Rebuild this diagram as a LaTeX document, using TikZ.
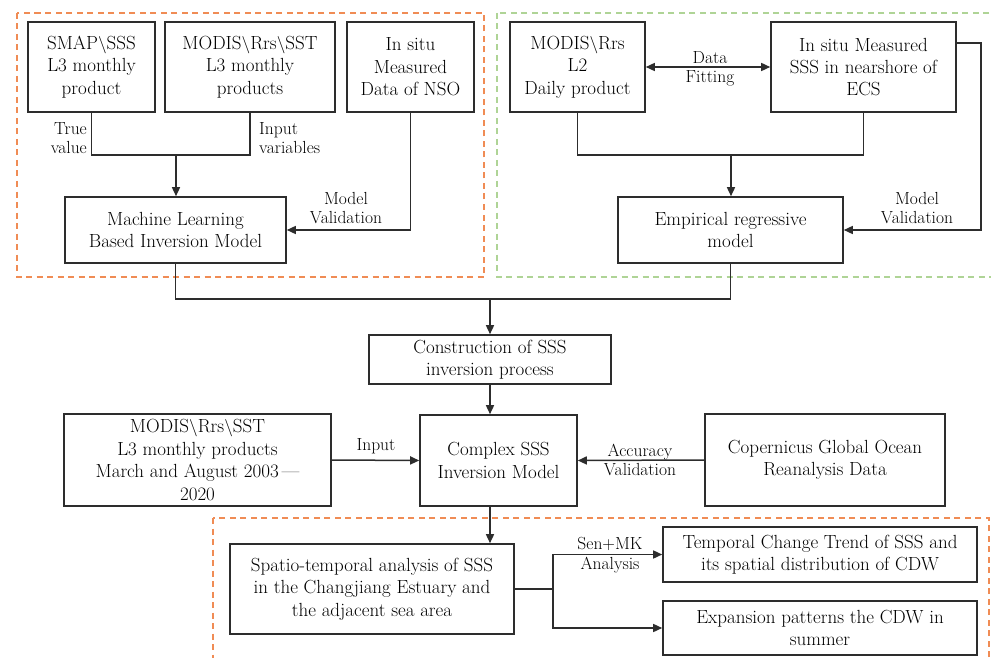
\documentclass[tikz,border=0pt]{standalone}
\usepackage{tikz}
\usetikzlibrary{arrows.meta}
\definecolor{frameorange}{RGB}{240,140,85}
\definecolor{framegreen}{RGB}{175,212,150}
\definecolor{boxline}{RGB}{45,45,45}

\tikzset{
    blk/.style={draw=boxline, line width=1.6pt, align=center, inner sep=2pt,
        font=\fontsize{19}{22.4}\selectfont},
    lbl/.style={align=center, inner sep=0pt, font=\fontsize{17.5}{19.5}\selectfont},
    arr/.style={-{Triangle[length=9pt,width=8pt]}},
    conn/.style={line width=1.5pt, boxline},
    frame/.style={line width=1.3pt, dash pattern=on 6pt off 4.5pt},
}

\begin{document}
\begin{tikzpicture}[x=1pt, y=-1pt]
    \useasboundingbox (0,0) rectangle (991,658);
    \fill[white] (0,0) rectangle (991,658);

    % dashed frames
    \draw[frame, frameorange] (17,13) rectangle (484,277);
    \draw[frame, framegreen] (497,13) rectangle (1004,277);
    \draw[frame, frameorange] (213,518) rectangle (989,672);

    % machine learning branch
    \node[blk, minimum width=127pt, minimum height=90pt] (smap) at (91.5,67) {SMAP$\backslash$SSS\\L3 monthly\\product};
    \node[blk, minimum width=170pt, minimum height=90pt] (modisA) at (250,67) {MODIS$\backslash$Rrs$\backslash$SST\\L3 monthly\\products};
    \node[blk, minimum width=127pt, minimum height=90pt] (nso) at (410.5,67) {In situ\\Measured\\Data of NSO};
    \node[blk, minimum width=221pt, minimum height=66pt] (ml) at (175.5,230) {Machine Learning\\Based Inversion Model};

    % empirical branch
    \node[blk, minimum width=135pt, minimum height=90pt] (l2) at (577.5,67) {MODIS$\backslash$Rrs\\L2\\Daily product};
    \node[blk, minimum width=185pt, minimum height=90pt] (ecs) at (863.5,67) {In situ Measured\\SSS in nearshore of\\ECS};
    \node[blk, minimum width=225pt, minimum height=66pt] (er) at (730.5,230) {Empirical regressive\\model};

    % inversion
    \node[blk, minimum width=242pt, minimum height=49pt] (cons) at (490,359.5) {Construction of SSS\\inversion process};
    \node[blk, minimum width=157pt, minimum height=91pt] (cplx) at (498.5,460.5) {Complex SSS\\Inversion Model};
    \node[blk, minimum width=267pt, minimum height=92pt] (modisB) at (197.5,460) {MODIS$\backslash$Rrs$\backslash$SST\\L3 monthly products\\March and August 2003\,---\\2020};
    \node[blk, minimum width=240pt, minimum height=92pt] (cop) at (825,460) {Copernicus Global Ocean\\Reanalysis Data};

    % analysis
    \node[blk, minimum width=284pt, minimum height=90pt] (spat) at (372,589) {Spatio-temporal analysis of SSS\\in the Changjiang Estuary and\\the adjacent sea area};
    \node[blk, minimum width=314pt, minimum height=55pt] (trend) at (820,554.5) {Temporal Change Trend of SSS and\\its spatial distribution of CDW};
    \node[blk, minimum width=314pt, minimum height=54pt] (expan) at (820,628) {Expansion patterns the CDW in\\summer};

    % junctions
    \coordinate (mlj) at (176,155);
    \coordinate (erj) at (731,155);
    \coordinate (midj) at (490,299);
    \coordinate (valr) at (981,43);
    \coordinate (spj) at (553,589);

    % connectors
    \draw[conn] (smap.south) |- (mlj) -| (modisA.south);
    \draw[conn, arr] (mlj) -- (mlj |- ml.north);
    \draw[conn, arr] (nso.south) |- (ml.east);
    \draw[conn, {Triangle[length=9pt,width=8pt]}-{Triangle[length=9pt,width=8pt]}] (l2.east) -- (ecs.west);
    \draw[conn] (l2.south) |- (erj) -| (ecs.south);
    \draw[conn, arr] (erj) -- (erj |- er.north);
    \draw[conn, arr] (ecs.east |- valr) -- (valr) |- (er.east);
    \draw[conn] (ml.south) |- (midj) -| (er.south);
    \draw[conn, arr] (midj) -- (cons.north);
    \draw[conn, arr] (cons.south) -- (cons.south |- cplx.north);
    \draw[conn, arr] (modisB.east) -- (cplx.west);
    \draw[conn, arr] (cop.west) -- (cplx.east);
    \draw[conn, arr] (cplx.south -| cons.south) -- (spat.north -| cons.south);
    \draw[conn] (spat.east) -- (spj);
    \draw[conn, arr] (spj) |- (trend.west);
    \draw[conn, arr] (spj) |- (expan.west);

    % connector labels
    \node[lbl, align=right, anchor=east] (tv) at (87,138) {True\\value};
    \node[lbl, align=left, anchor=west] (iv) at (259,138) {Input\\variables};
    \node[lbl] (mvA) at (346,208) {Model\\Validation};
    \node[lbl] (df) at (710,69) {Data\\Fitting};
    \node[lbl] (mvB) at (917,208) {Model\\Validation};
    \node[lbl] (inp) at (376,446) {Input};
    \node[lbl] (acc) at (640,460) {Accuracy\\Validation};
    \node[lbl] (smk) at (610,555) {Sen+MK\\Analysis};
\end{tikzpicture}
\end{document}
